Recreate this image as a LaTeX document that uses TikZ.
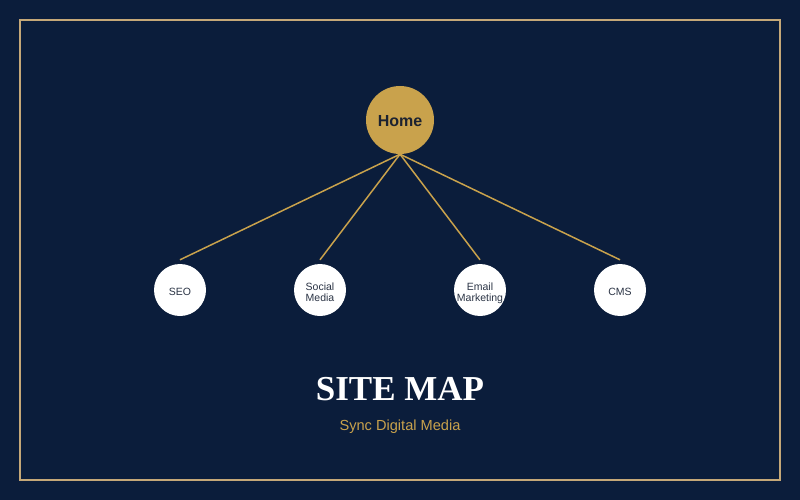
\documentclass[tikz,border=0pt]{standalone}
\usepackage{fontspec}
\setmainfont{Liberation Sans}
\newfontfamily\serifbold{Liberation Serif}
\definecolor{bgnavy}{HTML}{0B1D3B}
\definecolor{goldc}{HTML}{C9A24C}
\definecolor{framegold}{HTML}{C5A878}
\definecolor{darktext}{HTML}{2B3445}
\definecolor{hometext}{HTML}{1C2230}
\newcommand{\childlbl}[1]{\raisebox{-3.5pt}[\height][\depth]{\begin{tabular}{@{}c@{}}#1\end{tabular}}}
\begin{document}
\begin{tikzpicture}[x=1pt,y=-1pt,
  homenode/.style={circle,fill=goldc,minimum size=68pt,inner sep=0pt,font=\fontsize{16}{18}\selectfont\bfseries,text=hometext},
  childnode/.style={circle,fill=white,minimum size=52pt,inner sep=0pt,align=center,font=\fontsize{10.5}{9}\selectfont,text=darktext},
  link/.style={draw=goldc,line width=1.5pt}]
\fill[bgnavy] (0,0) rectangle (800,500);
\useasboundingbox (0,0) rectangle (800,500);
\draw[framegold,line width=2pt] (20,20) rectangle (780,480);
\node[homenode] (home) at (400,120) {\raisebox{-1.5pt}[\height][\depth]{Home}};
\node[childnode] (seo) at (180,290) {\childlbl{SEO}};
\node[childnode] (social) at (320,290) {\childlbl{Social\\Media}};
\node[childnode] (email) at (480,290) {\childlbl{Email\\Marketing}};
\node[childnode] (cms) at (620,290) {\childlbl{CMS}};
\foreach \c in {seo,social,email,cms}{
  \draw[link] (home.south) -- ([yshift=4pt]\c.north);
}
\node[text=white,font=\serifbold\fontsize{35}{38}\selectfont\bfseries] (title) at (400,389) {SITE MAP};
\node[text=goldc,font=\fontsize{14.6}{16}\selectfont] (sub) at (400,426.5) {Sync Digital Media};
\end{tikzpicture}
\end{document}
